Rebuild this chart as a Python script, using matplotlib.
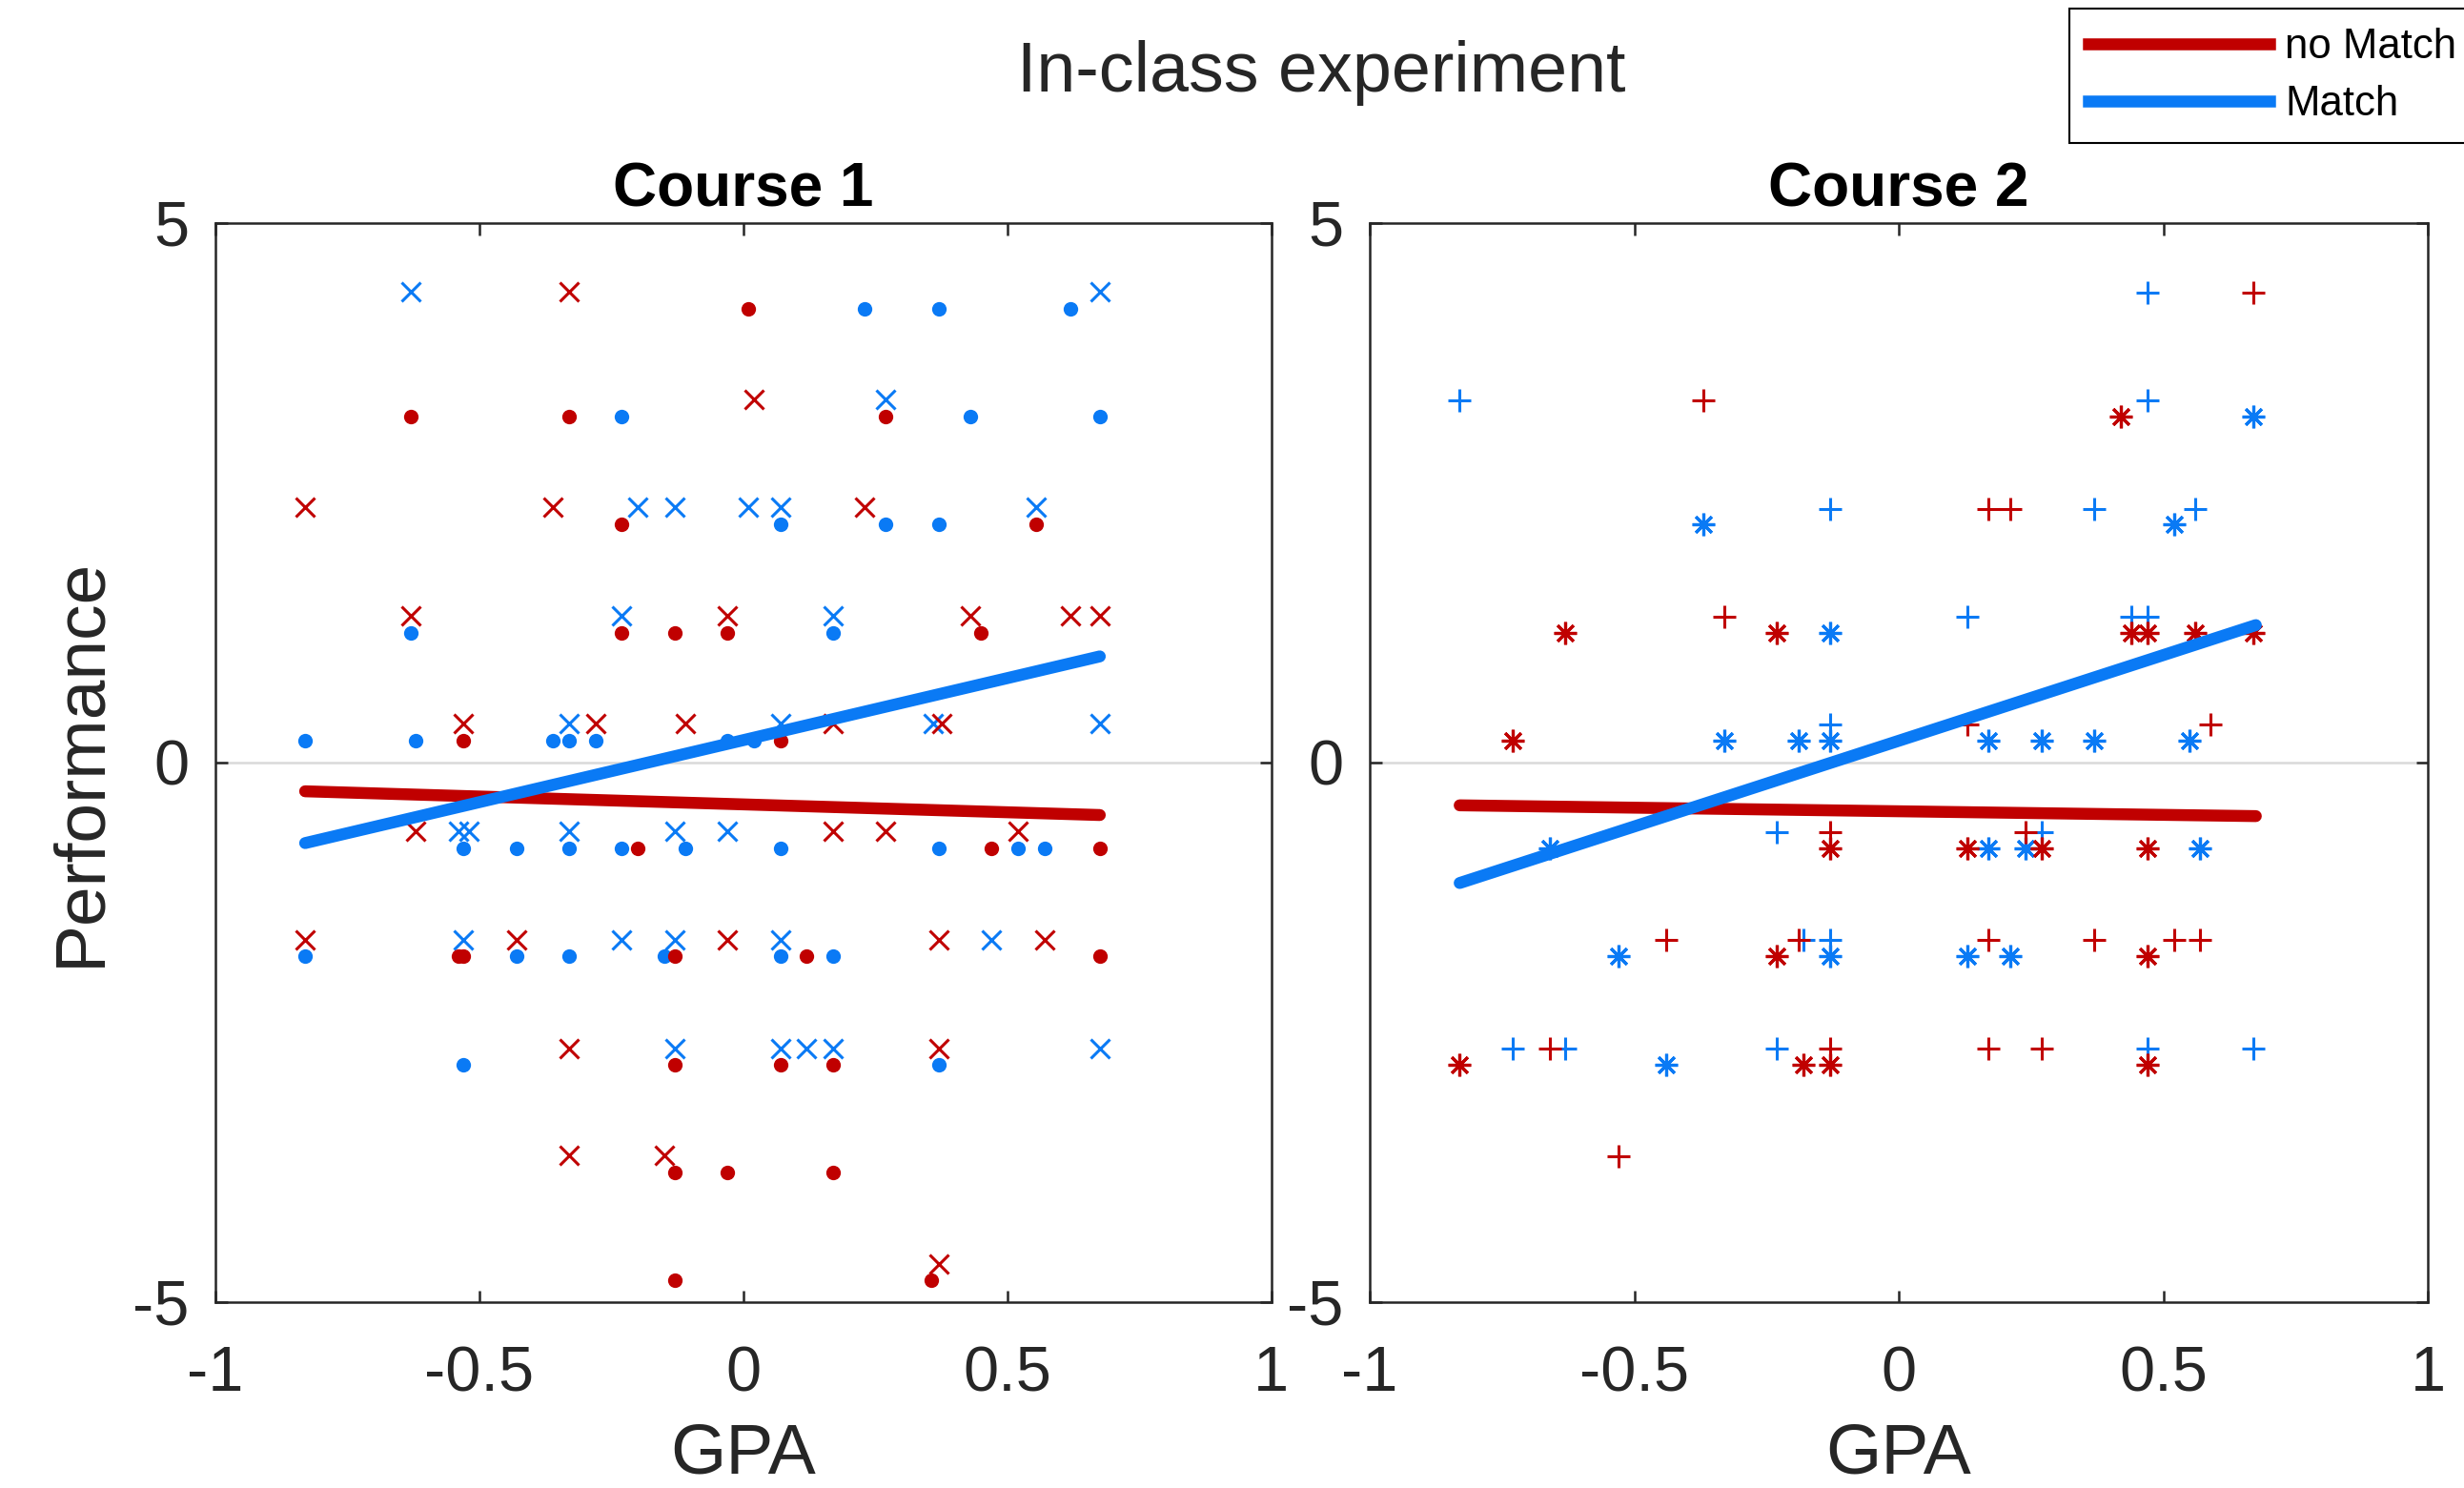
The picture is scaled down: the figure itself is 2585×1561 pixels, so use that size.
import numpy as np
import matplotlib
matplotlib.use('Agg')
import matplotlib.pyplot as plt
from matplotlib.lines import Line2D

plt.rcParams['font.family'] = ['Liberation Sans', 'DejaVu Sans']

red = '#c00000'
blue = '#0a7af5'
axcol = '#262626'

# Course 1: dots and crosses
c1_nomatch_dot_x = [0.01, -0.63, -0.33, 0.27, -0.23, 0.555, -0.23, -0.13, -0.03, 0.45,
                    -0.53, 0.07, -0.2, 0.47, 0.675, -0.54, -0.53, -0.13, 0.12, 0.675,
                    -0.13, 0.07, 0.17, -0.13, -0.03, 0.17, -0.13, 0.355]
c1_nomatch_dot_y = [4.2, 3.2, 3.2, 3.2, 2.2, 2.2, 1.2, 1.2, 1.2, 1.2,
                    0.2, 0.2, -0.8, -0.8, -0.8, -1.8, -1.8, -1.8, -1.8, -1.8,
                    -2.8, -2.8, -2.8, -3.8, -3.8, -3.8, -4.8, -4.8]

c1_nomatch_cross_x = [-0.33, 0.02, -0.83, -0.36, 0.23, -0.63, -0.03, 0.43, 0.62, 0.675,
                      -0.53, -0.28, -0.11, 0.17, 0.375, -0.62, 0.17, 0.27, 0.52,
                      -0.83, -0.43, -0.03, 0.37, 0.57, -0.33, 0.37, -0.33, -0.15, 0.37]
c1_nomatch_cross_y = [4.36, 3.36, 2.36, 2.36, 2.36, 1.36, 1.36, 1.36, 1.36, 1.36,
                      0.36, 0.36, 0.36, 0.36, 0.36, -0.64, -0.64, -0.64, -0.64,
                      -1.65, -1.65, -1.65, -1.65, -1.65, -2.65, -2.65, -3.64, -3.64, -4.65]

c1_match_dot_x = [0.23, 0.37, 0.62, -0.23, 0.43, 0.675, 0.07, 0.27, 0.37, -0.63, 0.17,
                  -0.83, -0.62, -0.36, -0.33, -0.28, -0.03, 0.02,
                  -0.53, -0.43, -0.33, -0.23, -0.11, 0.07, 0.37, 0.52, 0.57,
                  -0.83, -0.43, -0.33, -0.15, 0.07, 0.17, -0.53, 0.37]
c1_match_dot_y = [4.2, 4.2, 4.2, 3.2, 3.2, 3.2, 2.2, 2.2, 2.2, 1.2, 1.2,
                  0.2, 0.2, 0.2, 0.2, 0.2, 0.2, 0.2,
                  -0.8, -0.8, -0.8, -0.8, -0.8, -0.8, -0.8, -0.8, -0.8,
                  -1.8, -1.8, -1.8, -1.8, -1.8, -1.8, -2.8, -2.8]

c1_match_cross_x = [-0.63, 0.675, 0.27, -0.2, -0.13, 0.01, 0.07, 0.555, -0.23, 0.17,
                    -0.33, 0.07, 0.36, 0.675, -0.54, -0.52, -0.33, -0.13, -0.03,
                    -0.53, -0.23, -0.13, 0.07, 0.47, -0.13, 0.07, 0.12, 0.17, 0.675]
c1_match_cross_y = [4.36, 4.36, 3.36, 2.36, 2.36, 2.36, 2.36, 2.36, 1.36, 1.36,
                    0.36, 0.36, 0.36, 0.36, -0.64, -0.64, -0.64, -0.64, -0.64,
                    -1.65, -1.65, -1.65, -1.65, -1.65, -2.65, -2.65, -2.65, -2.65, -2.65]

# Course 2: asterisks and plus signs
c2_nomatch_star_x = [0.42, -0.63, -0.23, 0.44, 0.47, 0.56, 0.67, -0.73,
                     -0.13, 0.13, 0.27, 0.47, -0.23, 0.47, -0.83, -0.18, -0.13, 0.47]
c2_nomatch_star_y = [3.2, 1.2, 1.2, 1.2, 1.2, 1.2, 1.2, 0.2,
                     -0.8, -0.8, -0.8, -0.8, -1.8, -1.8, -2.8, -2.8, -2.8, -2.8]

c2_nomatch_plus_x = [0.67, -0.37, 0.17, 0.21, -0.33, 0.13, 0.59, -0.13, 0.24,
                     -0.44, -0.19, 0.17, 0.37, 0.52, 0.57, -0.66, -0.13, 0.17, 0.27, -0.53]
c2_nomatch_plus_y = [4.35, 3.35, 2.35, 2.35, 1.35, 0.35, 0.35, -0.65, -0.65,
                     -1.65, -1.65, -1.65, -1.65, -1.65, -1.65, -2.65, -2.65, -2.65, -2.65, -3.65]

c2_match_star_x = [0.67, -0.37, 0.52, -0.13, -0.33, -0.19, -0.13, 0.17, 0.27, 0.37, 0.55,
                   -0.66, 0.17, 0.24, 0.57, -0.53, -0.13, 0.13, 0.21, -0.44]
c2_match_star_y = [3.2, 2.2, 2.2, 1.2, 0.2, 0.2, 0.2, 0.2, 0.2, 0.2, 0.2,
                   -0.8, -0.8, -0.8, -0.8, -1.8, -1.8, -1.8, -1.8, -2.8]

c2_match_plus_x = [0.47, -0.83, 0.47, -0.13, 0.37, 0.56, 0.13, 0.44, 0.47, -0.13,
                   -0.23, 0.27, -0.18, -0.13, -0.73, -0.63, -0.23, 0.47, 0.67]
c2_match_plus_y = [4.35, 3.35, 3.35, 2.35, 2.35, 2.35, 1.35, 1.35, 1.35, 0.35,
                   -0.65, -0.65, -1.65, -1.65, -2.65, -2.65, -2.65, -2.65, -2.65]

# fitted lines (end points)
fit_x = [-0.83, 0.675]
c1_fit_nomatch = [-0.27, -0.49]
c1_fit_match = [-0.75, 0.98]
c2_fit_nomatch = [-0.40, -0.50]
c2_fit_match = [-1.12, 1.27]

star = (8, 2, 0)

fig = plt.figure(figsize=(25.85, 15.61), dpi=100)
ax1 = fig.add_axes([0.0874, 0.1252, 0.4286, 0.7252])
ax2 = fig.add_axes([0.5559, 0.1252, 0.4294, 0.7252])


def style(ax, title):
    ax.axhline(0, color='#d9d9d9', lw=1.8, zorder=0.5)
    ax.set_xlim(-1, 1)
    ax.set_ylim(-5, 5)
    ax.set_xticks([-1, -0.5, 0, 0.5, 1])
    ax.set_xticklabels(['-1', '-0.5', '0', '0.5', '1'])
    ax.set_yticks([-5, 0, 5])
    ax.set_yticklabels(['-5', '0', '5'])
    ax.tick_params(direction='in', top=True, right=True, length=9, width=1.8,
                   color=axcol, labelcolor=axcol, labelsize=48)
    ax.tick_params(axis='x', pad=33)
    ax.tick_params(axis='y', pad=20)
    for s in ax.spines.values():
        s.set_linewidth(1.8)
        s.set_color(axcol)
    ax.set_xlabel('GPA', fontsize=54, color=axcol, labelpad=13)
    ax.set_title(title, fontsize=46, fontweight='bold', pad=12)


# Course 1
ax1.plot(c1_match_dot_x, c1_match_dot_y, 'o', color=blue, ms=11, mew=0)
ax1.plot(c1_match_cross_x, c1_match_cross_y, 'x', color=blue, ms=14, mew=2.2)
ax1.plot(c1_nomatch_dot_x, c1_nomatch_dot_y, 'o', color=red, ms=11, mew=0)
ax1.plot(c1_nomatch_cross_x, c1_nomatch_cross_y, 'x', color=red, ms=14, mew=2.2)
ax1.plot(fit_x, c1_fit_nomatch, color=red, lw=9, solid_capstyle='round')
ax1.plot(fit_x, c1_fit_match, color=blue, lw=9, solid_capstyle='round')
style(ax1, 'Course 1')
ax1.set_ylabel('Performance', fontsize=54, color=axcol, labelpad=14)

# Course 2
ax2.plot(c2_match_star_x, c2_match_star_y, ls='none', marker=star, color=blue, ms=17, mew=2.3)
ax2.plot(c2_match_plus_x, c2_match_plus_y, '+', color=blue, ms=17, mew=2.2)
ax2.plot(c2_nomatch_star_x, c2_nomatch_star_y, ls='none', marker=star, color=red, ms=17, mew=2.3)
ax2.plot(c2_nomatch_plus_x, c2_nomatch_plus_y, '+', color=red, ms=17, mew=2.2)
ax2.plot(fit_x, c2_fit_nomatch, color=red, lw=9, solid_capstyle='round')
ax2.plot(fit_x, c2_fit_match, color=blue, lw=9, solid_capstyle='round')
style(ax2, 'Course 2')

fig.text(0.5364, 0.9388, 'In-class experiment', fontsize=53, color=axcol,
         ha='center', va='baseline')

handles = [Line2D([], [], color=red, lw=9), Line2D([], [], color=blue, lw=9)]
leg = fig.legend(handles, ['no Match', 'Match'], loc='upper left',
                 bbox_to_anchor=(0.8397, 0.994), borderaxespad=0, fontsize=31.5,
                 handlelength=4.35, handletextpad=0.37, labelspacing=0.42,
                 borderpad=0.46, fancybox=False, framealpha=1)
leg.get_frame().set_edgecolor('black')
leg.get_frame().set_linewidth(1.5)

fig.savefig('out.png', dpi=100)
